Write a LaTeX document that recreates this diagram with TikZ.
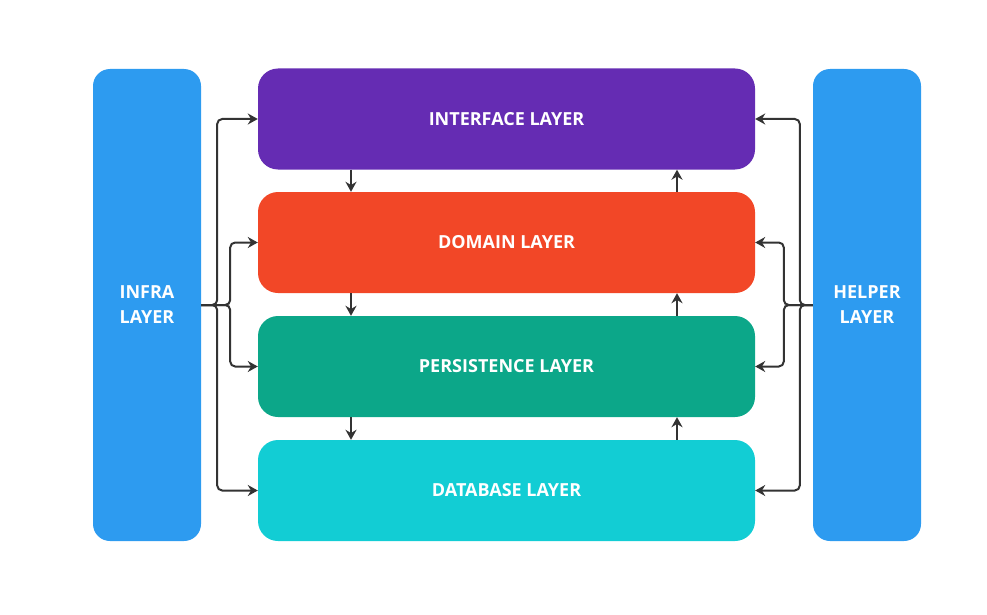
\documentclass[tikz,border=0pt]{standalone}
\usepackage{fontspec}
\setmainfont{Open Sans}
\usetikzlibrary{arrows.meta}

\definecolor{sideblue}{HTML}{2D9BF0}
\definecolor{ifacepurple}{HTML}{652CB3}
\definecolor{domainred}{HTML}{F24727}
\definecolor{persistgreen}{HTML}{0CA789}
\definecolor{dbcyan}{HTML}{12CDD4}
\definecolor{linkgray}{HTML}{333333}

\tikzset{
  layer/.style={rounded corners=20pt, minimum width=497pt, minimum height=101pt, inner sep=0pt,
    text=white, font=\fontsize{18}{22}\selectfont\bfseries},
  side/.style={rounded corners=17pt, fill=sideblue, minimum width=108pt, minimum height=472pt, inner sep=0pt,
    text=white, align=center, font=\fontsize{18}{25}\selectfont\bfseries},
  link/.style={draw=linkgray, line width=2pt, rounded corners=5pt, -{Stealth[length=10pt,width=11pt]}}
}

\begin{document}
\begin{tikzpicture}[x=1pt, y=-1pt]
  \useasboundingbox (0,0) rectangle (987,615);

  \node[side] (infra)  at (147,305) {INFRA\\LAYER};
  \node[side] (helper) at (867,305) {HELPER\\LAYER};

  \node[layer, fill=ifacepurple]  (iface)   at (506.5,119)   {INTERFACE LAYER};
  \node[layer, fill=domainred]    (domain)  at (506.5,242.5) {DOMAIN LAYER};
  \node[layer, fill=persistgreen] (persist) at (506.5,366.5) {PERSISTENCE LAYER};
  \node[layer, fill=dbcyan]       (db)      at (506.5,490.5) {DATABASE LAYER};

  % infra fans out to the layers
  \draw[link] (infra.east) -- ++(16,0) |- (iface.west);
  \draw[link] (infra.east) -- ++(16,0) |- (db.west);
  \draw[link] (infra.east) -- ++(29,0) |- (domain.west);
  \draw[link] (infra.east) -- ++(29,0) |- (persist.west);

  % helper fans out to the layers
  \draw[link] (helper.west) -- ++(-13,0) |- (iface.east);
  \draw[link] (helper.west) -- ++(-13,0) |- (db.east);
  \draw[link] (helper.west) -- ++(-29,0) |- (domain.east);
  \draw[link] (helper.west) -- ++(-29,0) |- (persist.east);

  % calls down, results up
  \draw[link] ([xshift=-155.5pt]iface.south)   -- ([xshift=-155.5pt]domain.north);
  \draw[link] ([xshift=-155.5pt]domain.south)  -- ([xshift=-155.5pt]persist.north);
  \draw[link] ([xshift=-155.5pt]persist.south) -- ([xshift=-155.5pt]db.north);
  \draw[link] ([xshift=170.5pt]domain.north)  -- ([xshift=170.5pt]iface.south);
  \draw[link] ([xshift=170.5pt]persist.north) -- ([xshift=170.5pt]domain.south);
  \draw[link] ([xshift=170.5pt]db.north)      -- ([xshift=170.5pt]persist.south);
\end{tikzpicture}
\end{document}
